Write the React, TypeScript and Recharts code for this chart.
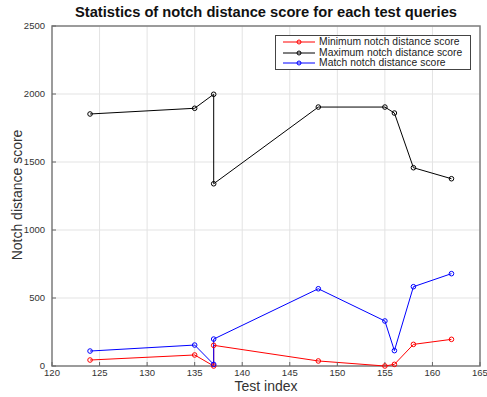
import { LineChart, Line, XAxis, YAxis, CartesianGrid, ReferenceArea } from 'recharts';

// test indices (137 appears twice in the source plot)
const testIndex = [124, 135, 137, 137, 148, 155, 156, 158, 162];
const minScore = [44, 81, 0, 152, 37, 0, 12, 159, 196];
const maxScore = [1853, 1895, 1998, 1340, 1904, 1904, 1860, 1458, 1377];
const matchScore = [110, 154, 12, 198, 568, 331, 113, 583, 679];

const xTicks = [120, 125, 130, 135, 140, 145, 150, 155, 160, 165];
const yTicks = [0, 500, 1000, 1500, 2000, 2500];

const series = [
  { name: 'Minimum notch distance score', color: '#ff0000', values: minScore },
  { name: 'Maximum notch distance score', color: '#000000', values: maxScore },
  { name: 'Match notch distance score', color: '#0000ff', values: matchScore },
];

const font = '"Liberation Sans", Arial, sans-serif';
const tickStroke = { stroke: '#666' };

export default function App() {
  return (
    <div style={{ position: 'absolute', left: 0, top: 0, width: 487, height: 397, background: '#fff', fontFamily: font }}>
      <LineChart width={487} height={397} margin={{ top: 26, right: 7, bottom: 11, left: 12 }}>
        <CartesianGrid stroke="#e3e3e3" vertical horizontal />
        <XAxis
          type="number"
          dataKey="x"
          domain={[120, 165]}
          ticks={xTicks}
          allowDataOverflow
          height={20}
          axisLine={false}
          tickLine={tickStroke}
          tickSize={-4}
          tickMargin={7}
          tick={{ fontSize: 9.5, fill: '#333', fontFamily: font }}
        />
        <XAxis
          xAxisId="top"
          orientation="top"
          type="number"
          dataKey="x"
          domain={[120, 165]}
          ticks={xTicks}
          height={0}
          axisLine={false}
          tickLine={tickStroke}
          tickSize={-4}
          tick={false}
        />
        <YAxis
          type="number"
          domain={[0, 2500]}
          ticks={yTicks}
          width={40}
          axisLine={false}
          tickLine={tickStroke}
          tickSize={-4}
          tickMargin={11}
          tick={{ fontSize: 9.5, fill: '#333', fontFamily: font }}
        />
        <YAxis
          yAxisId="right"
          orientation="right"
          type="number"
          domain={[0, 2500]}
          ticks={yTicks}
          width={0}
          axisLine={false}
          tickLine={tickStroke}
          tickSize={-4}
          tick={false}
        />
        <ReferenceArea x1={120} x2={165} y1={0} y2={2500} fill="none" stroke="#7f7f7f" strokeWidth={1.5} />
        {series.map(s => (
          <Line
            key={s.name}
            data={testIndex.map((x, i) => ({ x, y: s.values[i] }))}
            dataKey="y"
            name={s.name}
            stroke={s.color}
            strokeWidth={1}
            dot={{ r: 2.3, stroke: s.color, fill: 'none', strokeWidth: 1 }}
            isAnimationActive={false}
          />
        ))}
      </LineChart>
      <div style={{ position: 'absolute', left: 0, width: 532, top: 4, textAlign: 'center', fontSize: 14.7, lineHeight: '17px', fontWeight: 'bold', color: '#111' }}>
        Statistics of notch distance score for each test queries
      </div>
      <div style={{ position: 'absolute', left: 52, width: 428, top: 379, textAlign: 'center', fontSize: 14, lineHeight: '14px', color: '#333' }}>
        Test index
      </div>
      <div
        style={{
          position: 'absolute', left: 17, top: 195, fontSize: 14, lineHeight: '14px', color: '#333', whiteSpace: 'nowrap',
          transform: 'translate(-50%, -50%) rotate(-90deg)',
        }}
      >
        Notch distance score
      </div>
      <div
        style={{
          position: 'absolute', left: 275, top: 35, width: 196, height: 35, border: '1px solid #444',
          background: '#fff', fontSize: 10.3, lineHeight: '10.5px', padding: '1px 0 0 7px', boxSizing: 'border-box', color: '#222',
        }}
      >
        {series.map(s => (
          <div key={s.name} style={{ display: 'flex', alignItems: 'center', height: 10.5 }}>
            <svg width={33} height={8} style={{ marginRight: 3 }}>
              <line x1={0} y1={4} x2={32} y2={4} stroke={s.color} strokeWidth={1} />
              <circle cx={16} cy={4} r={2} stroke={s.color} fill="none" />
            </svg>
            <span style={{ letterSpacing: 0.05 }}>{s.name}</span>
          </div>
        ))}
      </div>
    </div>
  );
}
